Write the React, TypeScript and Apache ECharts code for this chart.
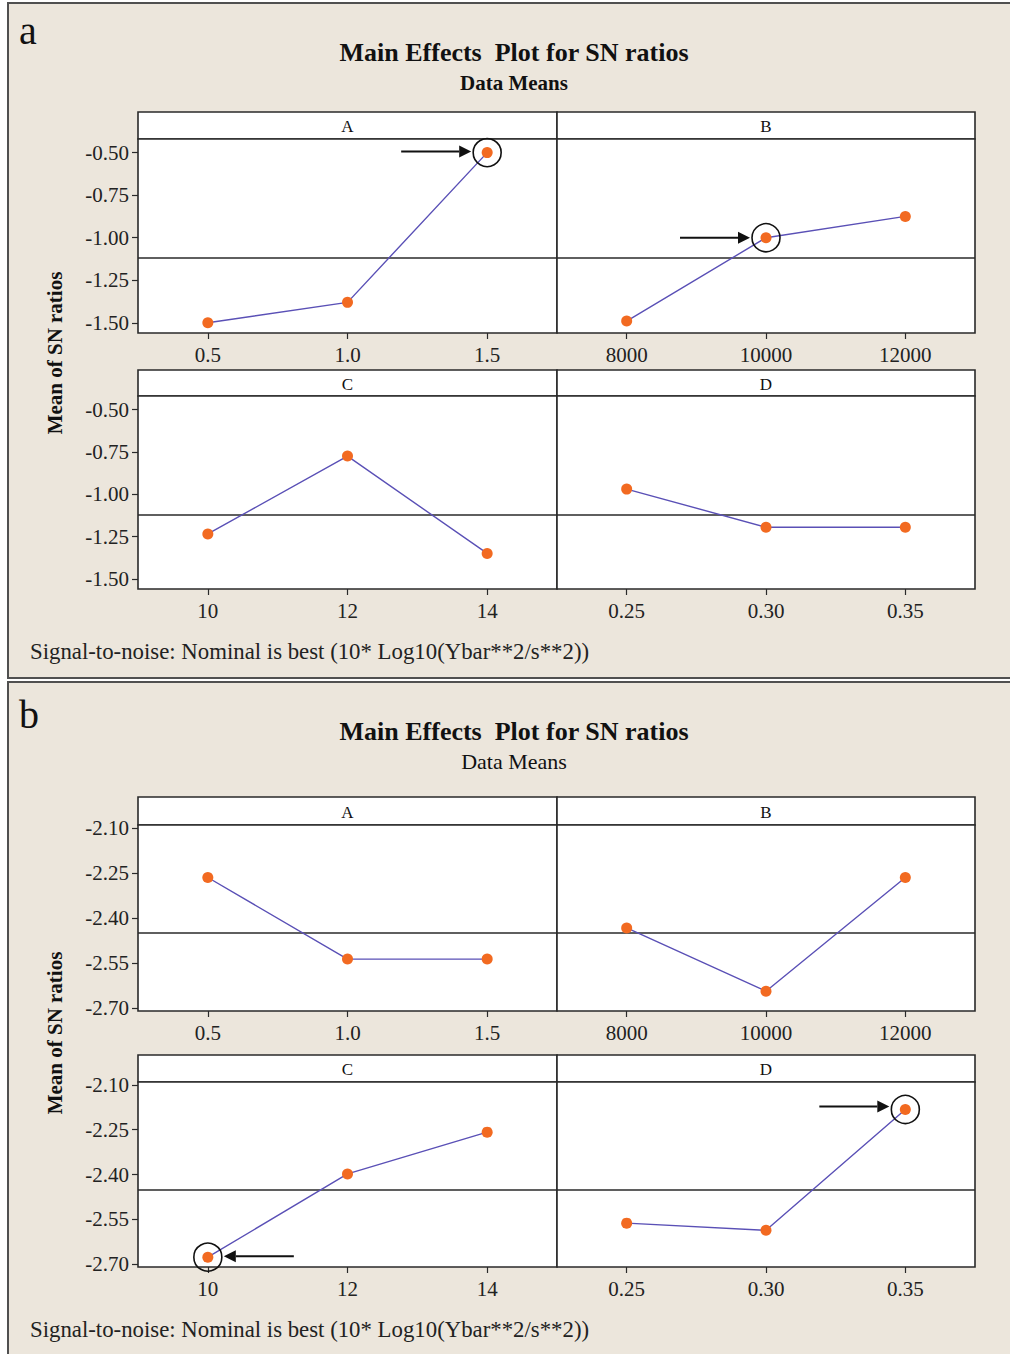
import React, { useEffect, useRef } from "react";
import * as echarts from "echarts";

// Factor levels (x-axis categories)
const levelsA = ["0.5", "1.0", "1.5"];
const levelsB = ["8000", "10000", "12000"];
const levelsC = ["10", "12", "14"];
const levelsD = ["0.25", "0.30", "0.35"];
const factorNames = ["A", "B", "C", "D"];

// Mean of SN ratios, plot a
const snA_a = [-1.5, -1.38, -0.5];
const snB_a = [-1.49, -1.0, -0.875];
const snC_a = [-1.235, -0.775, -1.35];
const snD_a = [-0.97, -1.195, -1.195];

// Mean of SN ratios, plot b
const snA_b = [-2.265, -2.537, -2.537];
const snB_b = [-2.433, -2.644, -2.265];
const snC_b = [-2.677, -2.398, -2.258];
const snD_b = [-2.563, -2.587, -2.182];

// Y tick labels
const ticks_a = [-0.5, -0.75, -1.0, -1.25, -1.5];
const ticks_b = [-2.1, -2.25, -2.4, -2.55, -2.7];

const SERIF = "'Liberation Serif', 'DejaVu Serif', serif";
const BEIGE = "#ECE6DC";
const FRAME = "#2a2a2a";
const LINE = "#5a50b6";
const DOT = "#f26a21";

type Panel = {
  letter: string;
  letterY: number;
  titleY: number;
  subY: number;
  subBold: boolean;
  footerY: number;
  yTitleY: number;
  rows: { headerTop: number; plotTop: number; plotBottom: number }[];
  yMin: number;
  yMax: number;
  ticks: number[];
  series: number[][];
  // factor index, level index, arrow direction
  marks: { f: number; lvl: number; dir: 1 | -1; dy: number }[];
};

const panels: Panel[] = [
  {
    letter: "a",
    letterY: 30,
    titleY: 52,
    subY: 83,
    subBold: true,
    footerY: 651,
    yTitleY: 353,
    rows: [
      { headerTop: 112, plotTop: 139, plotBottom: 333 },
      { headerTop: 370, plotTop: 396, plotBottom: 589 },
    ],
    yMin: -1.56,
    yMax: -0.42,
    ticks: ticks_a,
    series: [snA_a, snB_a, snC_a, snD_a],
    marks: [
      { f: 0, lvl: 2, dir: 1, dy: -1 },
      { f: 1, lvl: 1, dir: 1, dy: 0 },
    ],
  },
  {
    letter: "b",
    letterY: 714,
    titleY: 731,
    subY: 761,
    subBold: false,
    footerY: 1329,
    yTitleY: 1033,
    rows: [
      { headerTop: 797, plotTop: 825, plotBottom: 1011 },
      { headerTop: 1055, plotTop: 1082, plotBottom: 1267 },
    ],
    yMin: -2.71,
    yMax: -2.09,
    ticks: ticks_b,
    series: [snA_b, snB_b, snC_b, snD_b],
    marks: [
      { f: 2, lvl: 0, dir: -1, dy: -1 },
      { f: 3, lvl: 2, dir: 1, dy: -3 },
    ],
  },
];

const levels = [levelsA, levelsB, levelsC, levelsD];
const colLeft = [138, 557];
const colWidth = [419, 418];

const mean = (arr: number[][]) => {
  const all = arr.flat();
  return all.reduce((s, v) => s + v, 0) / all.length;
};

export default function App() {
  const ref = useRef<HTMLDivElement>(null);

  useEffect(() => {
    document.body.style.margin = "0";
    const chart = echarts.init(ref.current!, null, { renderer: "svg" });

    const grids: any[] = [];
    const xAxes: any[] = [];
    const yAxes: any[] = [];
    const series: any[] = [];
    const graphics: any[] = [];

    panels.forEach((p, pi) => {
      const top = pi === 0 ? 3 : 682;
      const h = pi === 0 ? 675 : 700;
      graphics.push({
        type: "rect",
        z: -100,
        shape: { x: 8, y: top, width: 1010, height: h },
        style: { fill: BEIGE, stroke: "#505050", lineWidth: 2 },
        silent: true,
      });
      graphics.push({
        type: "text",
        x: 19,
        y: p.letterY,
        style: {
          text: p.letter,
          font: `40px ${SERIF}`,
          fill: "#111",
          verticalAlign: "middle",
        },
      });
      graphics.push({
        type: "text",
        x: 514,
        y: p.titleY,
        style: {
          text: "Main Effects  Plot for SN ratios",
          font: `bold 26px ${SERIF}`,
          fill: "#111",
          align: "center",
          verticalAlign: "middle",
        },
      });
      graphics.push({
        type: "text",
        x: 514,
        y: p.subY,
        style: {
          text: "Data Means",
          font: `${p.subBold ? "bold 21px" : "22px"} ${SERIF}`,
          fill: "#111",
          align: "center",
          verticalAlign: "middle",
        },
      });
      graphics.push({
        type: "text",
        x: 30,
        y: p.footerY,
        style: {
          text: "Signal-to-noise: Nominal is best (10* Log10(Ybar**2/s**2))",
          font: `22.8px ${SERIF}`,
          fill: "#222",
          verticalAlign: "middle",
        },
      });
      graphics.push({
        type: "text",
        x: 55,
        y: p.yTitleY,
        rotation: Math.PI / 2,
        style: {
          text: "Mean of SN ratios",
          font: `bold 21px ${SERIF}`,
          fill: "#111",
          align: "center",
          verticalAlign: "middle",
        },
      });

      const ref = mean(p.series);

      for (let f = 0; f < 4; f++) {
        const row = p.rows[Math.floor(f / 2)];
        const col = f % 2;
        const gi = grids.length;

        // factor name strip above the plot area
        graphics.push({
          type: "rect",
          z: -50,
          shape: {
            x: colLeft[col],
            y: row.headerTop,
            width: colWidth[col],
            height: row.plotTop - row.headerTop,
          },
          style: { fill: "#fff", stroke: FRAME, lineWidth: 1.6 },
          silent: true,
        });
        graphics.push({
          type: "text",
          x: colLeft[col] + colWidth[col] / 2,
          y: (row.headerTop + row.plotTop) / 2 + 1,
          style: {
            text: factorNames[f],
            font: `17px ${SERIF}`,
            fill: "#111",
            align: "center",
            verticalAlign: "middle",
          },
        });

        grids.push({
          left: colLeft[col],
          top: row.plotTop,
          width: colWidth[col],
          height: row.plotBottom - row.plotTop,
          show: true,
          backgroundColor: "#fff",
          borderColor: FRAME,
          borderWidth: 1.6,
        });

        xAxes.push({
          type: "category",
          gridIndex: gi,
          data: levels[f],
          boundaryGap: true,
          axisLine: { show: false },
          axisTick: {
            show: true,
            alignWithLabel: true,
            length: 6,
            lineStyle: { color: FRAME, width: 1.2 },
          },
          axisLabel: {
            margin: 11,
            fontSize: 21,
            fontFamily: SERIF,
            color: "#222",
          },
          splitLine: { show: false },
        });

        yAxes.push({
          type: "value",
          gridIndex: gi,
          min: p.yMin,
          max: p.yMax,
          axisLine: { show: false },
          splitLine: { show: false },
          axisTick: {
            show: col === 0,
            length: 6,
            customValues: p.ticks,
            lineStyle: { color: FRAME, width: 1.2 },
          },
          axisLabel: {
            show: col === 0,
            customValues: p.ticks,
            margin: 9,
            fontSize: 21,
            fontFamily: SERIF,
            color: "#222",
            formatter: (v: number) => v.toFixed(2),
          },
        });

        series.push({
          type: "line",
          xAxisIndex: gi,
          yAxisIndex: gi,
          data: p.series[f],
          symbol: "circle",
          symbolSize: 11,
          itemStyle: { color: DOT },
          lineStyle: { color: LINE, width: 1.4 },
          z: 5,
          markLine: {
            silent: true,
            symbol: "none",
            label: { show: false },
            lineStyle: { color: FRAME, width: 1.5, type: "solid" },
            data: [{ yAxis: ref }],
          },
        });
      }
    });

    chart.setOption({
      animation: false,
      backgroundColor: "#fff",
      grid: grids,
      xAxis: xAxes,
      yAxis: yAxes,
      series,
      graphic: graphics,
    });

    // Circles and arrows pointing at the optimal levels
    const notes: any[] = [];
    panels.forEach((p, pi) => {
      p.marks.forEach((m) => {
        const gi = pi * 4 + m.f;
        const [px, py] = chart.convertToPixel({ gridIndex: gi }, [
          m.lvl,
          p.series[m.f][m.lvl],
        ]) as number[];
        notes.push({
          type: "circle",
          z: 100,
          shape: { cx: px, cy: py, r: 14 },
          style: { fill: "none", stroke: "#111", lineWidth: 1.6 },
        });
        const ay = py + m.dy;
        const tip = px - m.dir * 16;
        const tail = px - m.dir * 86;
        const base = tip - m.dir * 12;
        notes.push({
          type: "line",
          z: 100,
          shape: { x1: tail, y1: ay, x2: base, y2: ay },
          style: { stroke: "#111", lineWidth: 2 },
        });
        notes.push({
          type: "polygon",
          z: 100,
          shape: {
            points: [
              [tip, ay],
              [base, ay - 6],
              [base, ay + 6],
            ],
          },
          style: { fill: "#111" },
        });
      });
    });

    chart.setOption({ graphic: graphics.concat(notes) });

    return () => chart.dispose();
  }, []);

  return <div ref={ref} style={{ width: 1010, height: 1354 }} />;
}
